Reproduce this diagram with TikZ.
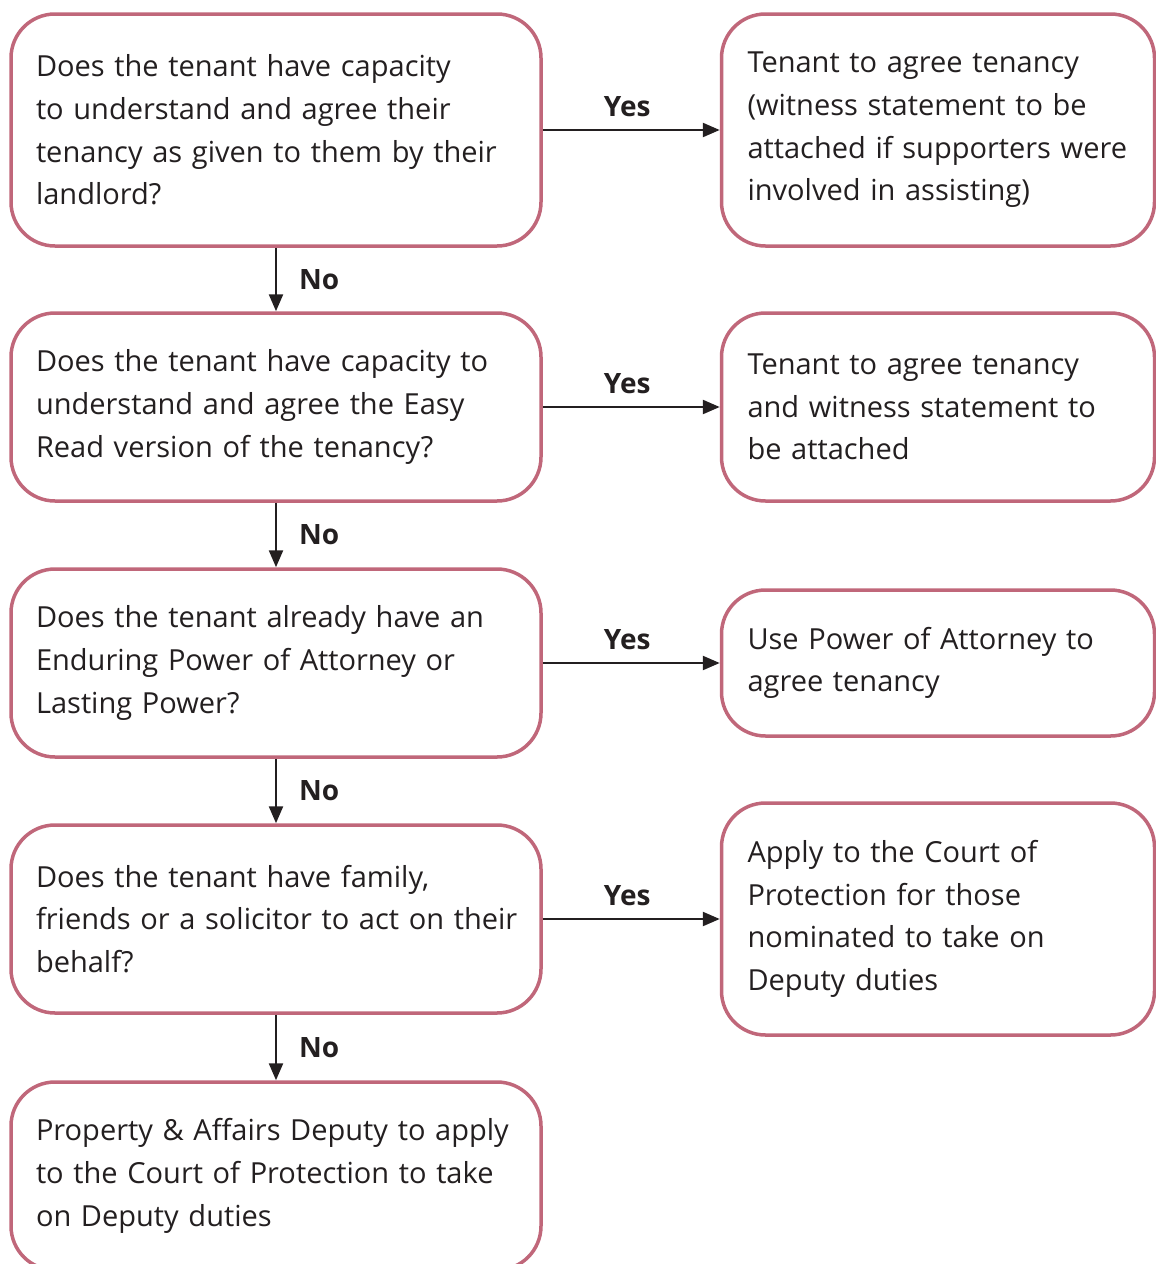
\documentclass[tikz,border=0pt]{standalone}
\usepackage{fontspec}
\setmainfont{Open Sans}
\usetikzlibrary{arrows.meta}
\definecolor{rose}{HTML}{C0677A}
\definecolor{ink}{HTML}{231F20}
\tikzset{
  box/.style={draw=rose, line width=3.5pt, rounded corners=44pt, fill=white,
    align=left, text=ink, inner xsep=0pt, inner ysep=0pt,
    font=\fontsize{29}{42.7}\selectfont},
  lbox/.style={box, minimum width=530pt, text width=480pt},
  rbox/.style={box, minimum width=433pt, text width=381pt},
  conn/.style={line width=2.4pt, draw=ink, -{Triangle[length=17pt,width=14pt]}},
  lab/.style={font=\fontsize{28}{30}\selectfont\bfseries, text=ink, inner sep=0pt}
}
\begin{document}
\begin{tikzpicture}[x=1pt,y=-1pt]
\useasboundingbox (0,0) rectangle (1156,1264);
% left column
\node[lbox, minimum height=232pt] (q1) at (276,130) {Does the tenant have capacity\\to understand and agree their\\tenancy as given to them by their\\landlord?};
\node[lbox, minimum height=188pt] (q2) at (276,407) {Does the tenant have capacity to\\understand and agree the Easy\\Read version of the tenancy?};
\node[lbox, minimum height=188pt] (q3) at (276,663) {Does the tenant already have an\\Enduring Power of Attorney or\\Lasting Power?};
\node[lbox, minimum height=188pt] (q4) at (276,919) {Does the tenant have family,\\\mbox{friends or a solicitor to act on their}\\behalf?};
\node[lbox, minimum height=188pt] (q5) at (276,1176) {Property \& Affairs Deputy to apply\\to the Court of Protection to take\\on Deputy duties};
% right column
\node[rbox, minimum height=232pt] (a1) at (938,130) {Tenant to agree tenancy\\(witness statement to be\\\mbox{attached if supporters were}\\involved in assisting)};
\node[rbox, minimum height=188pt] (a2) at (938,407) {Tenant to agree tenancy\\and witness statement to\\be attached};
\node[rbox, minimum height=146pt] (a3) at (938,663) {Use Power of Attorney to\\agree tenancy};
\node[rbox, minimum height=232pt] (a4) at (938,919) {Apply to the Court of\\Protection for those\\nominated to take on\\Deputy duties};
% yes connectors
\foreach \q/\a in {q1/a1,q2/a2,q3/a3,q4/a4}{
  \draw[conn] (\q.east) -- node[lab, above=12pt, xshift=-4pt] {Yes} (\a.west);
}
% no connectors
\foreach \q/\n in {q1/q2,q2/q3,q3/q4,q4/q5}{
  \draw[conn] (\q.south) -- node[lab, right=22pt] {No} (\n.north);
}
\end{tikzpicture}
\end{document}
